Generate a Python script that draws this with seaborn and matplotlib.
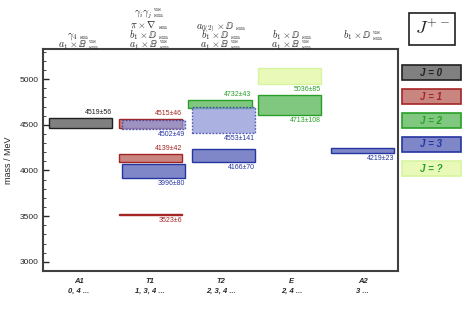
import numpy as np
import pandas as pd
import seaborn as sns
import matplotlib.pyplot as plt
from matplotlib.patches import Rectangle
import matplotlib.transforms as mtransforms

# irreps (columns) and the spins they carry
irreps = ["A1", "T1", "T2", "E", "A2"]
irrep_spins = ["0, 4 ...", "1, 3, 4 ...", "2, 3, 4 ...", "2, 4 ...", "3 ..."]

# states: irrep, spin, mass, error, dashed outline, label above box
state_irrep = ["A1", "T1", "T1", "T1", "T1", "T1", "T2", "T2", "T2", "E", "E", "A2"]
state_J = ["0", "1", "3", "1", "3", "1", "2", "3", "3", "?", "2", "3"]
state_mass = [4519, 4515, 4502, 4139, 3996, 3523, 4732, 4553, 4166, 5036, 4713, 4219]
state_err = [56, 46, 49, 42, 80, 6, 43, 141, 70, 85, 108, 23]
state_dashed = [False, False, True, False, False, False, False, True, False, False, False, False]
state_above = [True, True, False, True, False, False, True, False, False, False, False, False]

# operator headers per irrep (top to bottom rows, None = empty row)
B_op = r"$a_1\times\mathbb{B}\;^{\rm us}_{\rm sm}$"
D_op = r"$b_1\times\mathbb{D}\;_{\rm sm}$"
headers = {
    "A1": [None, None, r"$\gamma_4\;_{\rm sm}$", B_op],
    "T1": [r"$\gamma_i\gamma_j\;^{\rm us}_{\rm sm}$", r"$\pi\times\nabla\;_{\rm sm}$", D_op, B_op],
    "T2": [None, r"$a_{0(2)}\times\mathbb{D}\;_{\rm sm}$", D_op, B_op],
    "E": [None, None, D_op, B_op],
    "A2": [None, None, r"$b_1\times\mathbb{D}\;^{\rm us}_{\rm sm}$", None],
}

spin_names = ["0", "1", "2", "3", "?"]
fill = {"0": "#808080", "1": "#c98580", "2": "#80c880", "3": "#7f87c8", "?": "#e9fab8"}
edge = {"0": "#202020", "1": "#a52525", "2": "#28a028", "3": "#2535a0", "?": "#d8f4a0"}
text_col = {"0": "#202020", "1": "#a52525", "2": "#28a028", "3": "#2535a0", "?": "#28a028"}

df = pd.DataFrame({"irrep": state_irrep, "J": state_J, "mass": state_mass,
                   "err": state_err, "dashed": state_dashed, "above": state_above})
df["col"] = df["irrep"].map({k: i for i, k in enumerate(irreps)})

sns.set_style("ticks")
plt.rcParams["mathtext.fontset"] = "cm"
plt.rcParams["font.family"] = ["Liberation Sans", "DejaVu Sans"]

fig = plt.figure(figsize=(4.63, 3.14), dpi=100)
ax = fig.add_axes([0.093, 0.137, 0.767, 0.707])

width = 0.89
for _, r in df.iterrows():
    left = -0.415 + 0.98 * r["col"] + (0.05 if r["J"] == "3" else 0.0)
    lo = r["mass"] - r["err"]
    h = 2 * r["err"]
    if r["dashed"]:
        ax.bar(left, h, width=width, bottom=lo, align="edge", color="#8f97d6",
               alpha=0.75, edgecolor=edge["3"], linestyle=(0, (1.2, 1.2)), linewidth=1.0, zorder=3)
    else:
        ax.bar(left, h, width=width, bottom=lo, align="edge", color=fill[r["J"]],
               edgecolor=edge[r["J"]], linewidth=1.0, zorder=2)
    lab = f"{r['mass']}±{r['err']}"
    if r["above"]:
        ax.annotate(lab, (left + width, lo + h), xytext=(0, 1.5), textcoords="offset points",
                    ha="right", va="bottom", fontsize=5, color=text_col[r["J"]])
    else:
        ax.annotate(lab, (left + width, lo), xytext=(0, -1.5), textcoords="offset points",
                    ha="right", va="top", fontsize=5, color=text_col[r["J"]])

ax.set_xlim(-0.5, len(irreps) - 0.5)
ax.set_ylim(2900, 5330)
ax.set_yticks([3000, 3500, 4000, 4500, 5000])
ax.set_yticks(np.arange(2900, 5400, 100), minor=True)
ax.tick_params(axis="y", direction="in", length=4, width=1, labelsize=6, pad=3)
ax.tick_params(axis="y", which="minor", direction="in", length=2, width=0.6)
ax.set_xticks(range(len(irreps)))
ax.set_xticklabels([f"{a}\n{s}" for a, s in zip(irreps, irrep_spins)],
                   fontsize=5.5, fontweight="bold", fontstyle="italic", linespacing=1.6)
ax.tick_params(axis="x", length=0, pad=5)
ax.set_ylabel("mass / MeV", fontsize=6.5, labelpad=5)
for sp in ax.spines.values():
    sp.set_linewidth(1.5)
    sp.set_color("#404040")

# operator headers above the frame
trans = mtransforms.blended_transform_factory(ax.transData, fig.transFigure)
row_y = [1 - 15 / 314, 1 - 28 / 314, 1 - 38 / 314, 1 - 47.5 / 314]
for i, name in enumerate(irreps):
    for ry, t in zip(row_y, headers[name]):
        if t:
            ax.text(i, ry, t, transform=trans, ha="center", va="baseline", fontsize=7.2, clip_on=False)

# J^{+-} box
fig.add_artist(Rectangle((409 / 463, 1 - 45 / 314), 46 / 463, 32 / 314,
                         transform=fig.transFigure, fill=False, edgecolor="#202020", linewidth=1.2))
fig.text(432 / 463, 1 - 29 / 314, r"$J^{+-}$", ha="center", va="center", fontsize=13)

# spin legend
for k, J in enumerate(spin_names):
    top = 65 + 24 * k
    fig.add_artist(Rectangle((402 / 463, 1 - (top + 15) / 314), 59 / 463, 15 / 314,
                             transform=fig.transFigure, facecolor=fill[J],
                             edgecolor=edge[J], linewidth=1.2))
    fig.text(431.5 / 463, 1 - (top + 7.5) / 314, f"J = {J}", ha="center", va="center",
             fontsize=7, fontweight="bold", fontstyle="italic", color=text_col[J])

fig.savefig("out.png", dpi=100)
